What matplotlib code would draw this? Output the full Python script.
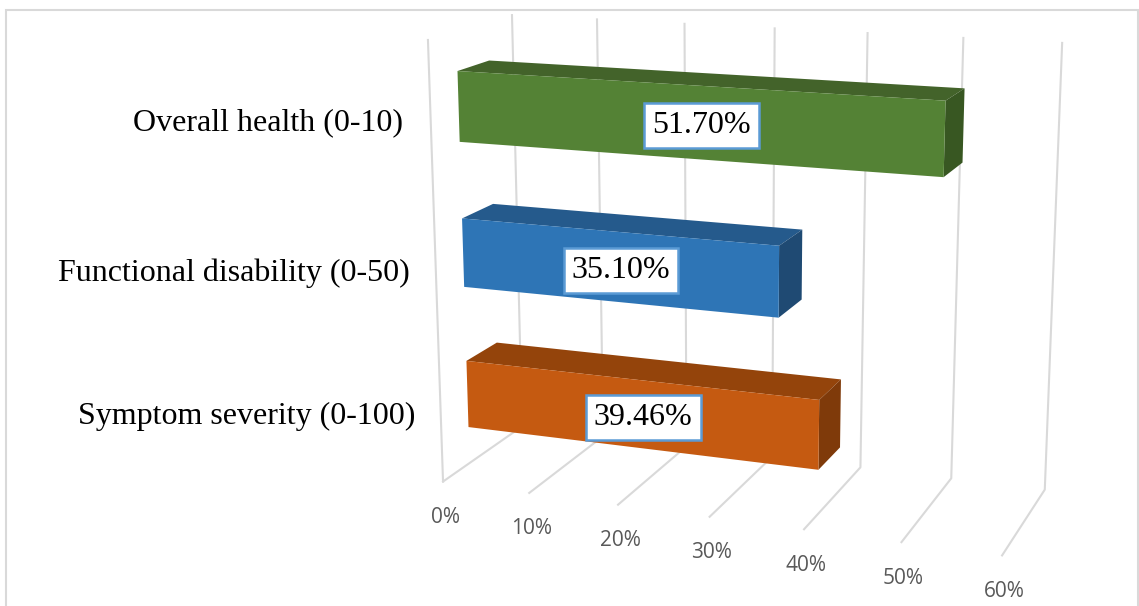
import numpy as np
import matplotlib
matplotlib.use("Agg")
import matplotlib.pyplot as plt
from matplotlib.patches import Polygon

categories = ["Symptom severity (0-100)", "Functional disability (0-50)", "Overall health (0-10)"]
values = [39.46, 35.10, 51.70]
value_labels = ["39.46%", "35.10%", "51.70%"]
ticks = [0, 10, 20, 30, 40, 50, 60]
tick_labels = ["0%", "10%", "20%", "30%", "40%", "50%", "60%"]

front_colors = ["#C55A11", "#2E75B6", "#548235"]
top_colors = ["#94440B", "#255A8C", "#43632A"]
side_colors = ["#7F3A0A", "#1F4A73", "#385722"]
grid_color = "#D9D9D9"

# corners of the 3d box (value, depth, height) and where they land on the canvas
box_corners = [(0, 0, 0), (0, 1, 0), (0, 0, 1), (0, 1, 1), (60, 1, 0), (60, 1, 1), (60, 0, 0)]
canvas_corners = [(444, 481), (521, 427), (427, 40), (513, 15), (1045, 489), (1062, 43), (1002, 556)]

# solve the camera matrix, last entry fixed to 1
rows = []
rhs = []
for (v, d, h), (px, py) in zip(box_corners, canvas_corners):
    rows.append([v, d, h, 1, 0, 0, 0, 0, -px * v, -px * d, -px * h])
    rows.append([0, 0, 0, 0, v, d, h, 1, -py * v, -py * d, -py * h])
    rhs += [px, py]
cam = np.linalg.lstsq(np.array(rows, float), np.array(rhs, float), rcond=None)[0]
cam = np.append(cam, 1.0).reshape(3, 4)


def proj(v, d, h):
    p = cam @ np.array([v, d, h, 1.0])
    return p[0] / p[2], p[1] / p[2]


fig = plt.figure(figsize=(11.39, 6.06), dpi=100)
ax = fig.add_axes([0, 0, 1, 1])
ax.set_xlim(0, 1139)
ax.set_ylim(606, 0)
ax.axis("off")

# chart border, cut off at the bottom
ax.plot([6, 6, 1138, 1138], [606, 10, 10, 606], color=grid_color, lw=1.5, solid_joinstyle="miter")

# back wall and floor gridlines
for t, lab in zip(ticks, tick_labels):
    xs, ys = zip(proj(t, 1, 1), proj(t, 1, 0), proj(t, 0, 0))
    ax.plot(xs, ys, color=grid_color, lw=1.5, zorder=1)
    fx, fy = proj(t, 0, 0)
    ax.text(fx + 2, fy + 36, lab, color="#595959", fontsize=15, family="Open Sans", ha="center", va="center")

# left edge of the side wall
xs, ys = zip(proj(0, 0, 1), proj(0, 0, 0))
ax.plot(xs, ys, color=grid_color, lw=1.5, zorder=1)

# bars: gap width 110%, gap depth 150%
band = 1 / len(categories)
thick = band / 2.1
d0, d1 = 0.32, 0.7
label_ys = [416, 273, 123]
label_right = [415, 410, 403]

for i, val in enumerate(values):
    h0 = band * (i + 0.5) - thick / 2
    h1 = band * (i + 0.5) + thick / 2
    top = [proj(0, d0, h1), proj(0, d1, h1), proj(val, d1, h1), proj(val, d0, h1)]
    side = [proj(val, d0, h1), proj(val, d1, h1), proj(val, d1, h0), proj(val, d0, h0)]
    front = [proj(0, d0, h0), proj(0, d0, h1), proj(val, d0, h1), proj(val, d0, h0)]
    ax.add_patch(Polygon(top, fc=top_colors[i], ec="none", zorder=2))
    ax.add_patch(Polygon(side, fc=side_colors[i], ec="none", zorder=2))
    ax.add_patch(Polygon(front, fc=front_colors[i], ec="none", zorder=3))

    # value label in the middle of the front face
    cx = np.mean([p[0] for p in front])
    cy = np.mean([p[1] for p in front])
    ax.text(cx, cy + 3, value_labels[i], fontsize=23, family="Liberation Serif", color="black",
            ha="center", va="center", zorder=5,
            bbox=dict(boxstyle="square,pad=0.25", fc="white", ec="#5B9BD5", lw=1.8))

    ax.text(label_right[i], label_ys[i], categories[i], fontsize=23, family="Liberation Serif",
            color="black", ha="right", va="center")

fig.savefig("out.png", dpi=100)
